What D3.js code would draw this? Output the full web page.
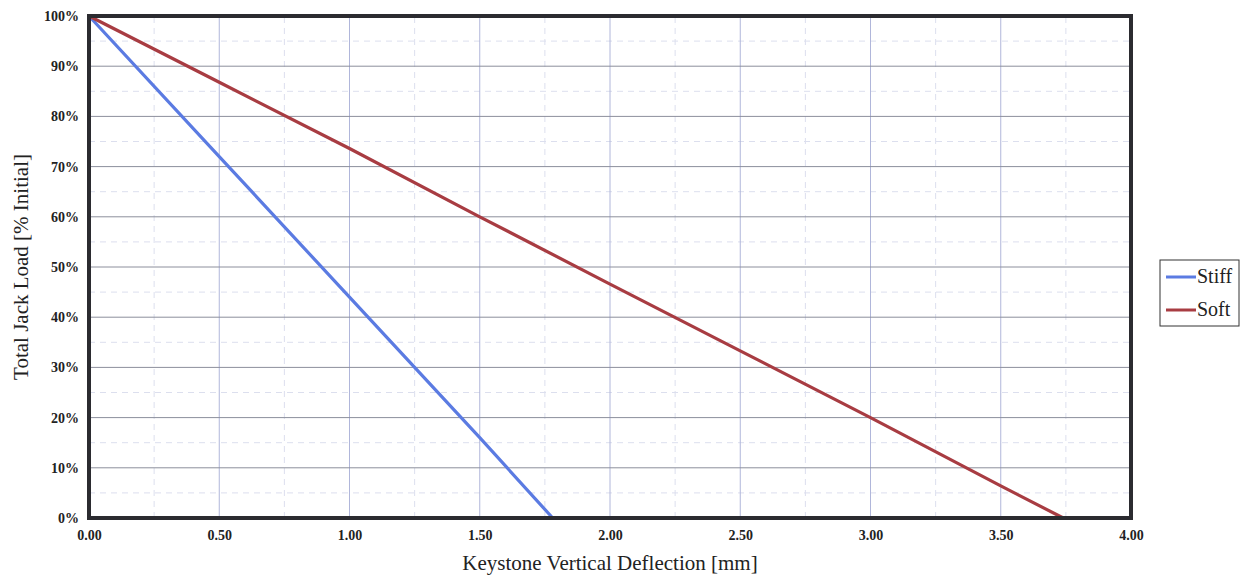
<!DOCTYPE html>
<html>
<head>
<meta charset="utf-8">
<script src="https://cdn.jsdelivr.net/npm/d3@7"></script>
<style>
  body { margin: 0; background: #fff; }
  svg text { font-family: "Liberation Serif", "DejaVu Serif", serif; fill: #222; }
</style>
</head>
<body>
<svg id="chart" width="1242" height="578"></svg>
<script>
// deflection [mm] vs total jack load [% initial]
var stiffX = [0, 0.5, 1.0, 1.5, 1.78];
var stiffY = [100, 72, 44, 16, 0];
var softX = [0, 0.5, 1.0, 1.5, 2.0, 2.5, 3.0, 3.5, 3.74];
var softY = [100, 86.8, 73.6, 60, 46.6, 33.3, 20, 6.4, 0];

var seriesNames = ['Stiff', 'Soft'];
var seriesColors = ['#5b7be2', '#a83c42'];

var xTicks = [0, 0.5, 1, 1.5, 2, 2.5, 3, 3.5, 4];
var yTicks = [0, 10, 20, 30, 40, 50, 60, 70, 80, 90, 100];

var margin = {left: 89, right: 111, top: 16, bottom: 60};
var W = 1242, H = 578;

var svg = d3.select('#chart');

var x = d3.scaleLinear().domain([0, 4]).range([margin.left, W - margin.right]);
var y = d3.scaleLinear().domain([0, 100]).range([H - margin.bottom, margin.top]);

// minor gridlines (dashed, faint)
var xMinor = d3.range(0.25, 4, 0.5);
var yMinor = d3.range(5, 100, 10);
svg.append('g').selectAll('line').data(xMinor).enter().append('line')
    .attr('x1', function (d) { return x(d); }).attr('x2', function (d) { return x(d); })
    .attr('y1', y(0)).attr('y2', y(100))
    .attr('stroke', '#dcdfee').attr('stroke-width', 1).attr('stroke-dasharray', '6,5');
svg.append('g').selectAll('line').data(yMinor).enter().append('line')
    .attr('y1', function (d) { return y(d); }).attr('y2', function (d) { return y(d); })
    .attr('x1', x(0)).attr('x2', x(4))
    .attr('stroke', '#dcdfee').attr('stroke-width', 1).attr('stroke-dasharray', '6,5');

// major gridlines
svg.append('g').selectAll('line').data(xTicks.slice(1, -1)).enter().append('line')
    .attr('x1', function (d) { return x(d); }).attr('x2', function (d) { return x(d); })
    .attr('y1', y(0)).attr('y2', y(100))
    .attr('stroke', '#b0b6da').attr('stroke-width', 1);
svg.append('g').selectAll('line').data(yTicks.slice(1, -1)).enter().append('line')
    .attr('y1', function (d) { return y(d); }).attr('y2', function (d) { return y(d); })
    .attr('x1', x(0)).attr('x2', x(4))
    .attr('stroke', '#8c8f9c').attr('stroke-width', 1);

// axes (labels only)
var xAxis = d3.axisBottom(x).tickValues(xTicks).tickFormat(d3.format('.2f')).tickSize(0).tickPadding(12);
var yAxis = d3.axisLeft(y).tickValues(yTicks).tickFormat(function (d) { return d + '%'; }).tickSize(0).tickPadding(10);

var gx = svg.append('g').attr('transform', 'translate(0,' + y(0) + ')').call(xAxis);
var gy = svg.append('g').attr('transform', 'translate(' + x(0) + ',0)').call(yAxis);
[gx, gy].forEach(function (g) {
    g.select('.domain').remove();
    g.selectAll('text').style('font-family', '"Liberation Serif", serif')
        .style('font-size', '14px').style('font-weight', 'bold').attr('fill', '#333');
});

// series
var line = d3.line().x(function (d) { return x(d[0]); }).y(function (d) { return y(d[1]); });
var series = [d3.zip(stiffX, stiffY), d3.zip(softX, softY)];
svg.append('g').selectAll('path').data(series).enter().append('path')
    .attr('d', line)
    .attr('fill', 'none')
    .attr('stroke', function (d, i) { return seriesColors[i]; })
    .attr('stroke-width', 3.2);

// frame
svg.append('rect')
    .attr('x', x(0)).attr('y', y(100))
    .attr('width', x(4) - x(0)).attr('height', y(0) - y(100))
    .attr('fill', 'none').attr('stroke', '#2b2b30').attr('stroke-width', 4);

// axis titles
svg.append('text')
    .attr('x', x(2)).attr('y', 570)
    .attr('text-anchor', 'middle')
    .style('font-size', '21px')
    .text('Keystone Vertical Deflection [mm]');
svg.append('text')
    .attr('transform', 'translate(28,' + y(50) + ') rotate(-90)')
    .attr('text-anchor', 'middle')
    .style('font-size', '21px')
    .text('Total Jack Load [% Initial]');

// legend
var lg = svg.append('g').attr('transform', 'translate(1160,260)');
lg.append('rect').attr('width', 79).attr('height', 66)
    .attr('fill', '#fff').attr('stroke', '#333').attr('stroke-width', 1);
var items = lg.selectAll('g').data(seriesNames).enter().append('g')
    .attr('transform', function (d, i) { return 'translate(0,' + (17 + i * 33) + ')'; });
items.append('line').attr('x1', 6).attr('x2', 36).attr('y1', 0).attr('y2', 0)
    .attr('stroke', function (d, i) { return seriesColors[i]; }).attr('stroke-width', 3);
items.append('text').attr('x', 37).attr('y', 6)
    .style('font-size', '20px')
    .text(function (d) { return d; });
</script>
</body>
</html>
